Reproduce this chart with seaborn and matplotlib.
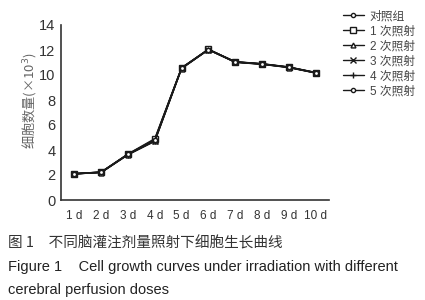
import matplotlib
matplotlib.use("Agg")
import matplotlib.pyplot as plt
import seaborn as sns
import pandas as pd
import numpy as np
from matplotlib.lines import Line2D

days = ["1 d", "2 d", "3 d", "4 d", "5 d", "6 d", "7 d", "8 d", "9 d", "10 d"]
groups = ["对照组", "1 次照射", "2 次照射", "3 次照射", "4 次照射", "5 次照射"]
ctrl   = [2.10, 2.22, 3.65, 4.85, 10.55, 12.05, 11.05, 10.88, 10.62, 10.18]
dose1  = [2.08, 2.24, 3.68, 4.90, 10.58, 12.05, 11.06, 10.90, 10.64, 10.20]
dose2  = [2.10, 2.20, 3.62, 4.72, 10.52, 12.02, 11.02, 10.86, 10.60, 10.16]
dose3  = [2.12, 2.22, 3.66, 4.75, 10.55, 12.04, 11.04, 10.88, 10.62, 10.18]
dose4  = [2.10, 2.23, 3.64, 4.70, 10.54, 12.03, 11.03, 10.87, 10.61, 10.17]
dose5  = [2.09, 2.21, 3.67, 4.80, 10.56, 12.04, 11.05, 10.89, 10.63, 10.19]
series = [ctrl, dose1, dose2, dose3, dose4, dose5]

rows = []
for g, vals in zip(groups, series):
    for i, v in enumerate(vals):
        rows.append({"day": i + 1, "group": g, "count": v})
df = pd.DataFrame(rows)

sns.set_style("white")
plt.rcParams['font.family'] = ['Liberation Sans', 'Noto Sans CJK SC', 'DejaVu Sans']

fig = plt.figure(figsize=(4.25, 3.0), dpi=100)
ax = fig.add_axes([61/425, 1 - 200/300, (329 - 61)/425, 175/300])

markers = {"对照组": "o", "1 次照射": "s", "2 次照射": "^", "3 次照射": "x",
           "4 次照射": "+", "5 次照射": "o"}
msizes = {"对照组": 3, "1 次照射": 4.5, "2 次照射": 3.5, "3 次照射": 4, "4 次照射": 5, "5 次照射": 3}
ink = "#1a1a1a"
for g in groups:
    sub = df[df["group"] == g]
    sns.lineplot(data=sub, x="day", y="count", color=ink, marker=markers[g],
                 markersize=msizes[g], markerfacecolor="white", markeredgecolor=ink,
                 markeredgewidth=1.0, linewidth=1.1, ax=ax, legend=False)

ax.set_xlim(0.5, 10.5)
ax.set_ylim(0, 14)
ax.set_yticks(np.arange(0, 15, 2))
ax.set_xticks(np.arange(1.5, 10.5, 1.0))
ax.set_xticklabels([])
ax.set_xticks(np.arange(1, 11), minor=True)
ax.set_xticklabels(days, minor=True)
ax.tick_params(axis="x", which="major", direction="in", length=4, width=1, color="#333333")
ax.tick_params(axis="x", which="minor", length=0, pad=7, labelsize=8.5, labelcolor="#333333")
ax.tick_params(axis="y", direction="in", length=3, width=1, color="#333333",
               labelsize=10.5, labelcolor="#333333", pad=4)
for s in ["top", "right"]:
    ax.spines[s].set_visible(False)
for s in ["left", "bottom"]:
    ax.spines[s].set_color("#333333")
    ax.spines[s].set_linewidth(1.2)
ax.set_xlabel("")
ax.set_ylabel("细胞数量(×10$^3$)", fontsize=9.5, color="#666666", labelpad=3,
              family=['Noto Sans CJK SC', 'DejaVu Sans'])
ax.yaxis.set_label_coords(-0.085, 0.57)

handles = [Line2D([], [], color=ink, lw=1.0, marker=markers[g], markersize=msizes[g],
                  markerfacecolor="white", markeredgecolor=ink) for g in groups]
fig.legend(handles, groups, loc="upper left", bbox_to_anchor=(332/425, 1.0),
           frameon=False, handlelength=1.8, handletextpad=0.5,
           labelspacing=0.25, prop={'family': ['Liberation Sans', 'Noto Sans CJK SC'], 'size': 8.5},
           labelcolor="#444444")

fig.text(8/425, 1 - 243/300, "图 1　不同脑灌注剂量照射下细胞生长曲线", fontsize=10.5,
         color="#333333", va="center", family=['Noto Sans CJK SC', 'DejaVu Sans'])
fig.text(8/425, 1 - 267/300, "Figure 1    Cell growth curves under irradiation with different",
         fontsize=10.5, color="#222222", va="center")
fig.text(8/425, 1 - 290/300, "cerebral perfusion doses", fontsize=10.5, color="#222222", va="center")

fig.savefig("out.png", dpi=100)
